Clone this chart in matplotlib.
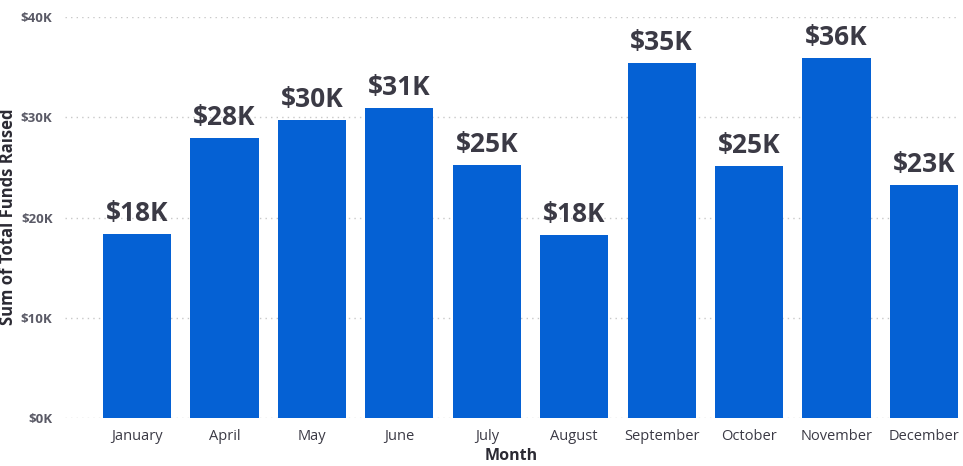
import matplotlib
matplotlib.use("Agg")
import matplotlib.pyplot as plt

months = ["January", "April", "May", "June", "July", "August",
          "September", "October", "November", "December"]
values = [18400, 27900, 29700, 30900, 25200, 18300, 35400, 25100, 35900, 23200]
yticks = [0, 10000, 20000, 30000, 40000]
ytick_labels = ["$0K", "$10K", "$20K", "$30K", "$40K"]

plt.rcParams['font.family'] = ['Open Sans', 'DejaVu Sans']

W, H = 963, 466
fig = plt.figure(figsize=(W / 100, H / 100), dpi=100)
fig.patch.set_facecolor("white")
ax = fig.add_axes([65 / W, 48 / H, (958 - 65) / W, (449 - 48) / H])

x = list(range(len(months)))
bars = ax.bar(x, values, width=0.78, color="#0561d4", zorder=3)

for xi, v in zip(x, values):
    ax.text(xi, v + 700, f"${round(v / 1000):.0f}K", ha="center", va="bottom",
            fontsize=19, fontweight="bold", color="#3b3a45", zorder=4)

ax.set_xlim(-0.824, 9.39)
ax.set_ylim(0, 40000)
ax.set_yticks(yticks)
ax.set_yticklabels(ytick_labels, fontsize=9.5, fontweight="bold", color="#5a5a66")
ax.set_xticks(x)
ax.set_xticklabels(months, fontsize=10.5, color="#3b3a45")
ax.tick_params(axis="both", length=0)
ax.tick_params(axis="y", pad=9)
ax.tick_params(axis="x", pad=8)

for s in ax.spines.values():
    s.set_visible(False)
ax.grid(axis="y", linestyle=(0, (1, 3)), color="#c8c8c8", linewidth=1, zorder=0)
ax.set_axisbelow(True)

ax.set_xlabel("Month", fontsize=11.5, fontweight="bold", color="#2b2a33", labelpad=3)
fig.text(8 / W, (H - 217) / H, "Sum of Total Funds Raised", rotation=90,
         ha="center", va="center", fontsize=12, fontweight="bold", color="#2b2a33")

fig.savefig("out.png", dpi=100)
